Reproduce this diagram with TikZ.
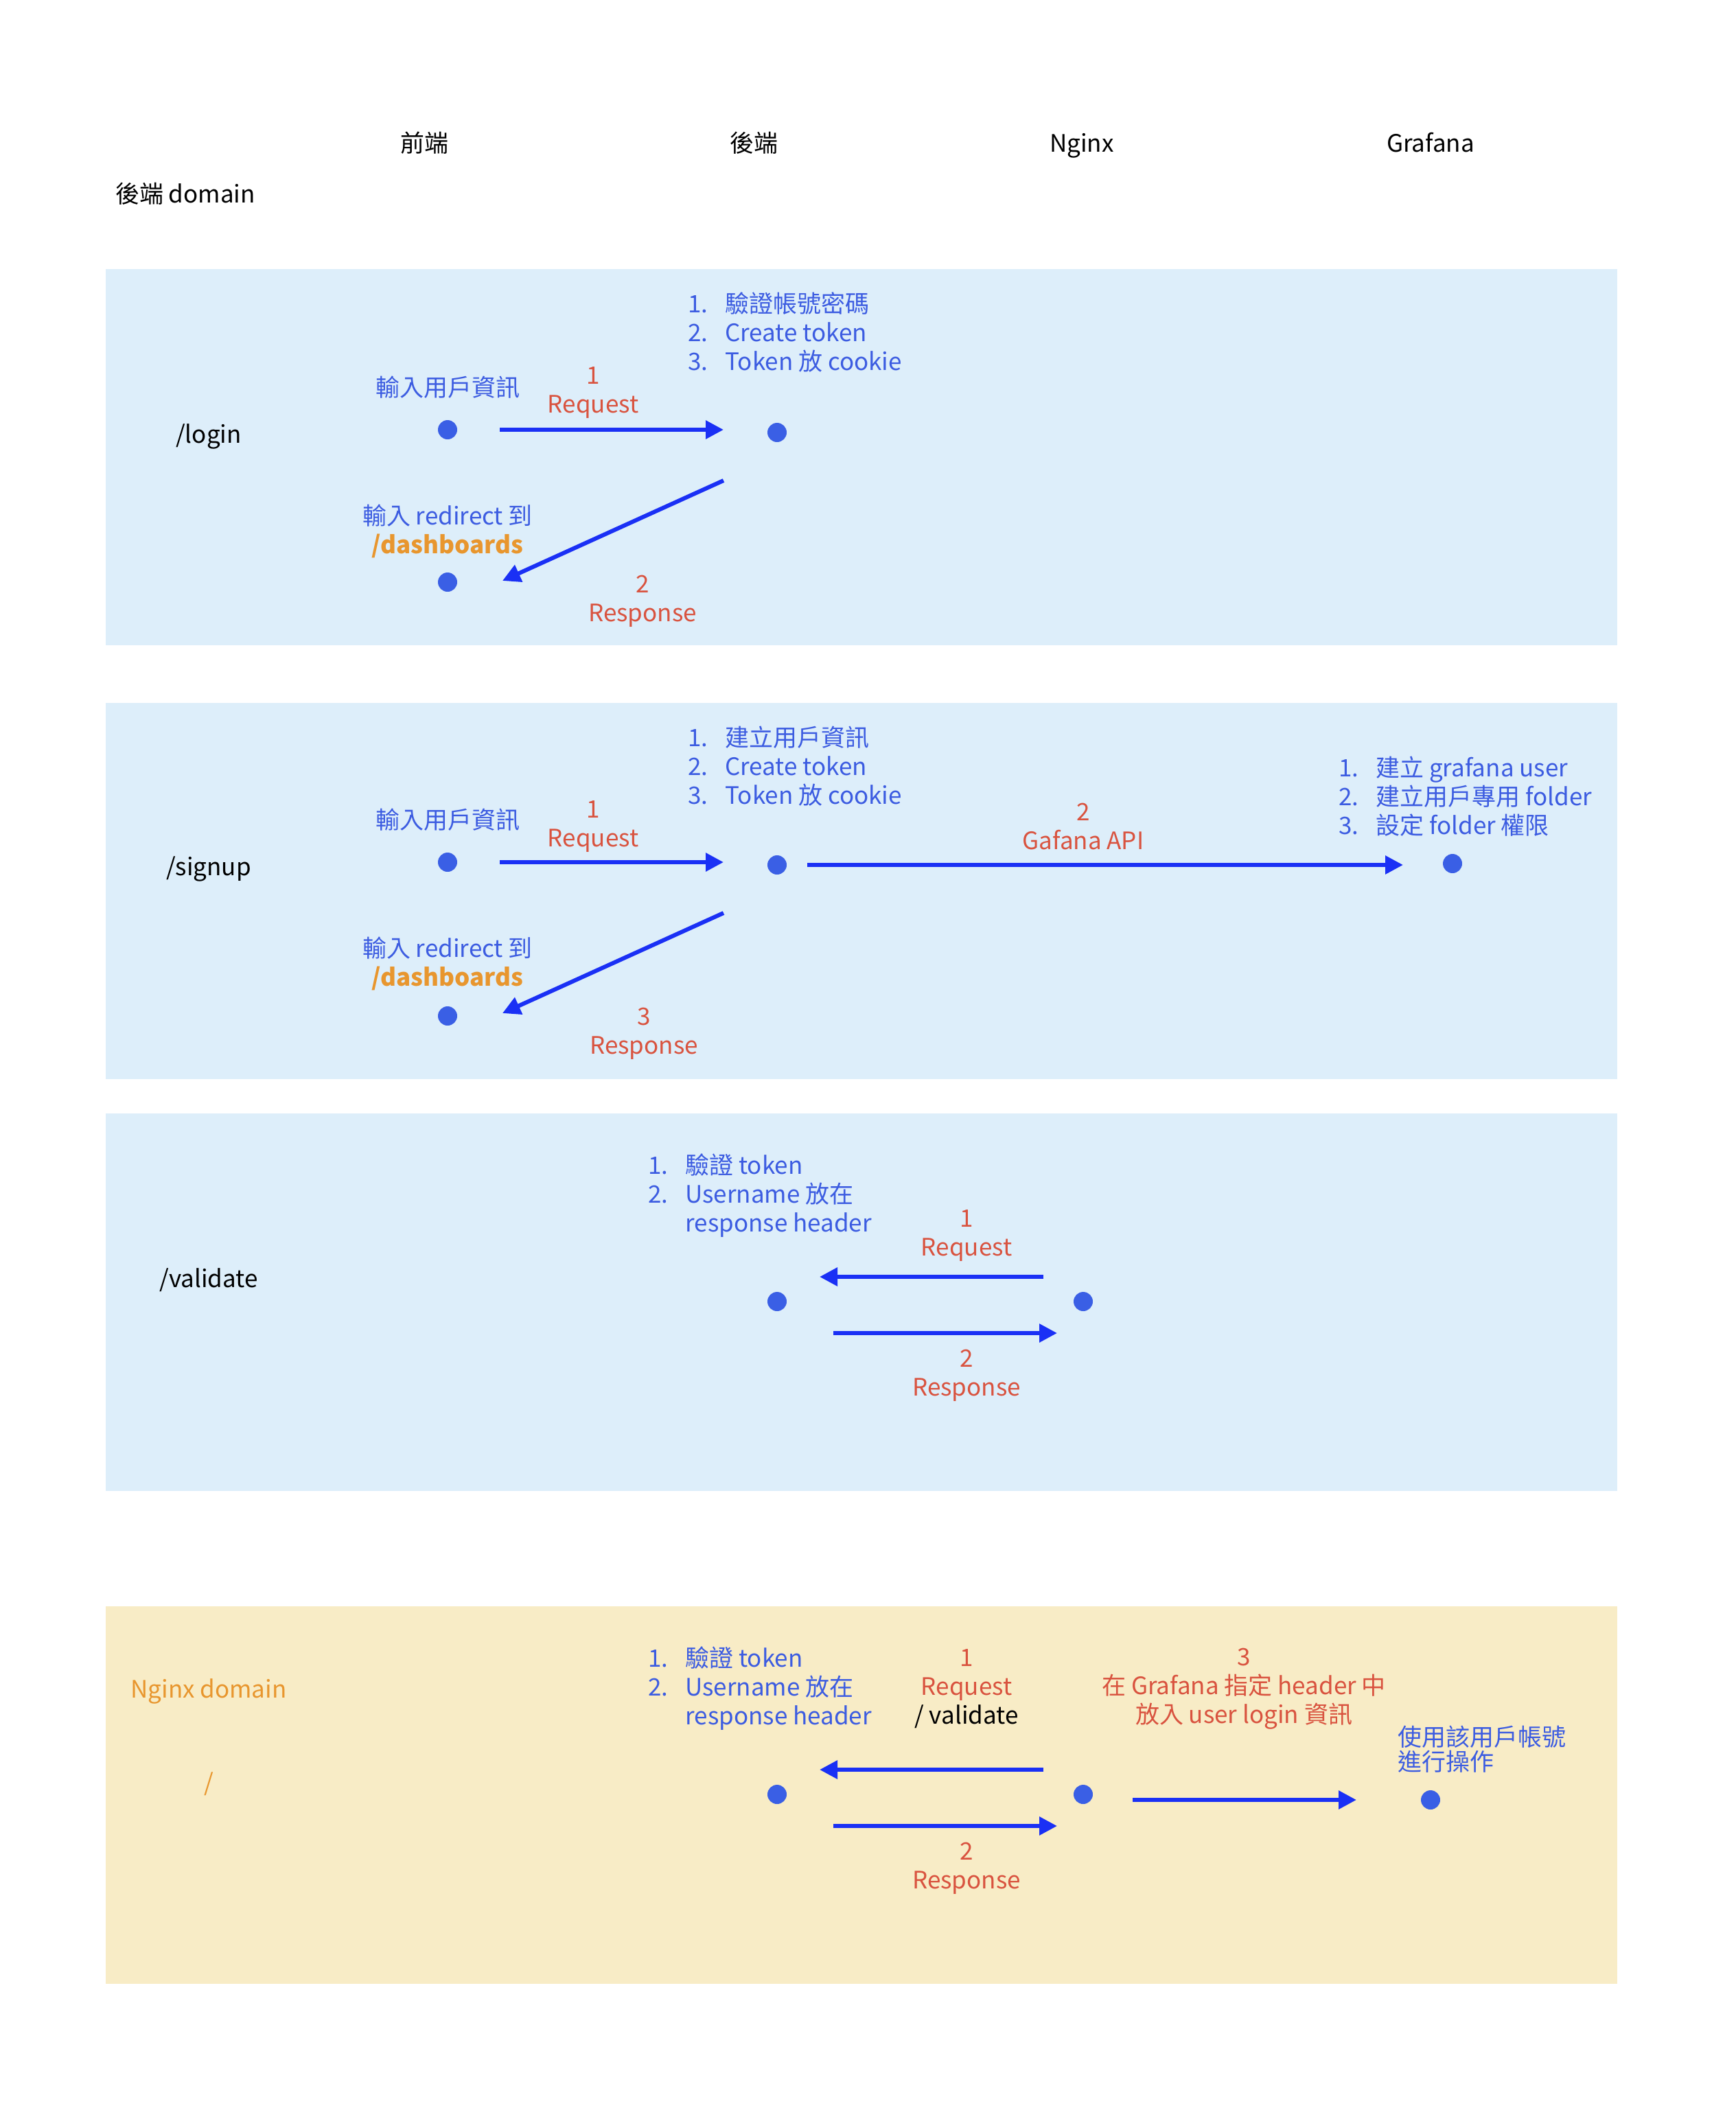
\documentclass[tikz,border=0pt]{standalone}
\usepackage{fontspec}
\setmainfont{Noto Sans CJK TC}
\usepackage{tikz}
\usetikzlibrary{arrows.meta}
\definecolor{panelblue}{RGB}{221,238,250}
\definecolor{panelyellow}{RGB}{248,236,198}
\definecolor{dotblue}{RGB}{58,95,229}
\definecolor{textblue}{RGB}{60,92,225}
\definecolor{flowblue}{RGB}{26,48,245}
\definecolor{stepred}{RGB}{217,83,63}
\definecolor{pathorange}{RGB}{232,150,46}
\newcommand{\dotsize}{14pt}
\newcommand{\arrowwidth}{3pt}
\newcommand{\listline}[2]{\makebox[27pt][l]{#1}#2}

\begin{document}
\begin{tikzpicture}[x=1pt,y=-1pt,
  dot/.style={circle,fill=dotblue,inner sep=0pt,minimum size=\dotsize},
  txt/.style={font=\fontsize{17.5}{21}\selectfont,inner sep=0pt,align=center},
  oneline/.style={txt,text height=15pt,text depth=2pt},
  note/.style={txt,text=textblue},
  stepno/.style={txt,text=stepred},
  listbox/.style={note,align=left,anchor=west},
  flow/.style={draw=flowblue,line width=\arrowwidth,-{Triangle[length=13pt,width=13pt]}}]
\useasboundingbox (0,0) rectangle (1264,1550);
%panels
\fill[panelblue] (77,196) rectangle (1178,470);
\fill[panelblue] (77,512) rectangle (1178,786);
\fill[panelblue] (77,811) rectangle (1178,1086);
\fill[panelyellow] (77,1170) rectangle (1178,1445);
%headers
\node[oneline] (hfront) at (309,104) {前端};
\node[oneline] (hback) at (549,104) {後端};
\node[oneline] (hnginx) at (788,104) {Nginx};
\node[oneline] (hgrafana) at (1042,104) {Grafana};
\node[oneline] (backdomain) at (135,141) {後端 domain};
%login
\node[oneline] (login) at (152,316) {/login};
\node[dot] (loginfront) at (326,313) {};
\node[dot] (loginback) at (566,315) {};
\node[dot] (loginredirect) at (326,424) {};
\node[note,oneline] (logininput) at (326,282) {輸入用戶資訊};
\node[listbox] (loginlist) at (501,242) {\listline{1.}{驗證帳號密碼}\\\listline{2.}{Create token}\\\listline{3.}{Token 放 cookie}};
\node[stepno] (loginreq) at (432,286) {1\\Request};
\node[note] (loginredir) at (326,387) {輸入 redirect 到\\\textcolor{pathorange}{\bfseries /dashboards}};
\node[stepno] (loginres) at (468,438) {2\\Response};
\coordinate (loginreqs) at (364,313);
\coordinate (loginreqe) at (527,313);
\coordinate (loginress) at (527,350);
\coordinate (loginrese) at (366,423);
\draw[flow] (loginreqs) -- (loginreqe);
\draw[flow] (loginress) -- (loginrese);
%signup
\node[oneline] (signup) at (152,631) {/signup};
\node[dot] (signupfront) at (326,628) {};
\node[dot] (signupback) at (566,630) {};
\node[dot] (signupredirect) at (326,740) {};
\node[dot] (signupgrafana) at (1058,629) {};
\node[note,oneline] (signupinput) at (326,597) {輸入用戶資訊};
\node[listbox] (signuplist) at (501,558) {\listline{1.}{建立用戶資訊}\\\listline{2.}{Create token}\\\listline{3.}{Token 放 cookie}};
\node[listbox] (grafanalist) at (975,580) {\listline{1.}{建立 grafana user}\\\listline{2.}{建立用戶專用 folder}\\\listline{3.}{設定 folder 權限}};
\node[stepno] (signupreq) at (432,602) {1\\Request};
\node[stepno] (signupapi) at (789,602) {2\\Gafana API};
\node[note] (signupredir) at (326,702) {輸入 redirect 到\\\textcolor{pathorange}{\bfseries /dashboards}};
\node[stepno] (signupres) at (469,753) {3\\Response};
\coordinate (signupreqs) at (364,628);
\coordinate (signupreqe) at (527,628);
\coordinate (signupapis) at (588,630);
\coordinate (signupapie) at (1022,630);
\coordinate (signupress) at (527,665);
\coordinate (signuprese) at (366,738);
\draw[flow] (signupreqs) -- (signupreqe);
\draw[flow] (signupapis) -- (signupapie);
\draw[flow] (signupress) -- (signuprese);
%validate
\node[oneline] (validate) at (152,931) {/validate};
\node[dot] (valback) at (566,948) {};
\node[dot] (valnginx) at (789,948) {};
\node[listbox] (vallist) at (472,871) {\listline{1.}{驗證 token}\\\listline{2.}{Username 放在}\\\listline{}{response header}};
\node[stepno] (valreq) at (704,900) {1\\Request};
\node[stepno] (valres) at (704,1002) {2\\Response};
\coordinate (valreqs) at (760,930);
\coordinate (valreqe) at (597,930);
\coordinate (valress) at (607,971);
\coordinate (valrese) at (770,971);
\draw[flow] (valreqs) -- (valreqe);
\draw[flow] (valress) -- (valrese);
%nginx domain
\node[oneline,text=pathorange] (ngxdomain) at (152,1230) {Nginx domain};
\node[oneline,text=pathorange] (ngxroot) at (152,1298) {/};
\node[dot] (ngxback) at (566,1307) {};
\node[dot] (ngxnginx) at (789,1307) {};
\node[dot] (ngxgrafana) at (1042,1311) {};
\node[listbox] (ngxlist) at (472,1230) {\listline{1.}{驗證 token}\\\listline{2.}{Username 放在}\\\listline{}{response header}};
\node[stepno] (ngxreq) at (704,1230) {1\\Request\\\textcolor{black}{/ validate}};
\node[stepno] (ngxheader) at (906,1230) {3\\在 Grafana 指定 header 中\\放入 user login 資訊};
\node[note,align=left,anchor=west,font=\fontsize{17.5}{18}\selectfont] (ngxuse) at (1018,1274) {使用該用戶帳號\\進行操作};
\node[stepno] (ngxres) at (704,1361) {2\\Response};
\coordinate (ngxreqs) at (760,1289);
\coordinate (ngxreqe) at (597,1289);
\coordinate (ngxress) at (607,1330);
\coordinate (ngxrese) at (770,1330);
\coordinate (ngxgos) at (825,1311);
\coordinate (ngxgoe) at (988,1311);
\draw[flow] (ngxreqs) -- (ngxreqe);
\draw[flow] (ngxress) -- (ngxrese);
\draw[flow] (ngxgos) -- (ngxgoe);
\end{tikzpicture}
\end{document}
